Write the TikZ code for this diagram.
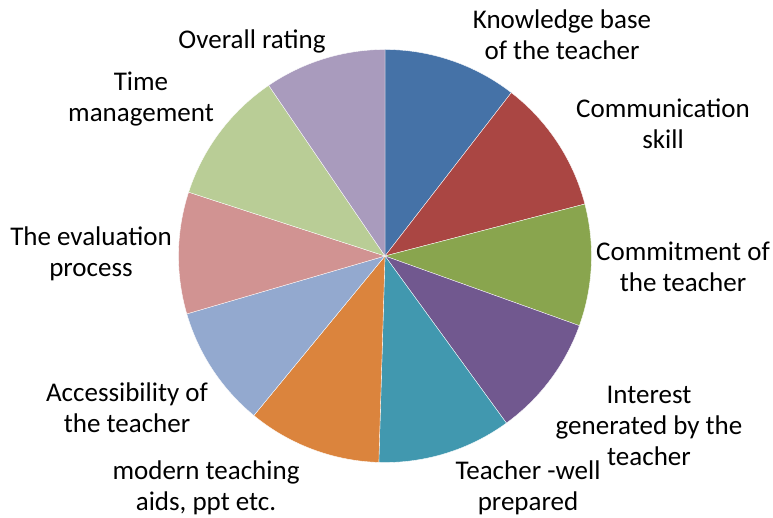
\documentclass[tikz,border=0pt]{standalone}
\usepackage{fontspec}
\setmainfont{Carlito}
\definecolor{cA}{HTML}{4572A7}
\definecolor{cB}{HTML}{AA4643}
\definecolor{cC}{HTML}{89A54E}
\definecolor{cD}{HTML}{71588F}
\definecolor{cE}{HTML}{4198AF}
\definecolor{cF}{HTML}{DB843D}
\definecolor{cG}{HTML}{93A9CF}
\definecolor{cH}{HTML}{D19392}
\definecolor{cI}{HTML}{B9CD96}
\definecolor{cJ}{HTML}{A99BBD}
\tikzset{
  lbl/.style={anchor=base, align=center, inner sep=0pt, font=\fontsize{27}{31}\selectfont, text=black},
  slicefill/.style={fill=#1, draw=white, line width=0.35pt, line join=round}
}
\newcommand{\pieslice}[3]{%
  \filldraw[slicefill=#3] (385,256) -- ++({#1-90}:206.5) arc[start angle={#1-90}, end angle={#2-90}, radius=206.5] -- cycle;}
\begin{document}
\begin{tikzpicture}[x=1pt,y=-1pt]
\useasboundingbox (0,0) rectangle (773,518);
\pieslice{0}{37.714}{cA}
\pieslice{37.714}{75.429}{cB}
\pieslice{75.429}{109.714}{cC}
\pieslice{109.714}{144}{cD}
\pieslice{144}{181.714}{cE}
\pieslice{181.714}{219.429}{cF}
\pieslice{219.429}{253.714}{cG}
\pieslice{253.714}{288}{cH}
\pieslice{288}{325.714}{cI}
\pieslice{325.714}{360}{cJ}
\node[lbl] (kb) at (562,60) {Knowledge base\\of the teacher};
\node[lbl] (cs) at (663,149) {Communication\\skill};
\node[lbl] (ct) at (683,291.5) {Commitment of\\the teacher};
\node[lbl] (ig) at (649,465) {Interest\\generated by the\\teacher};
\node[lbl] (tw) at (528,510) {Teacher -well\\prepared};
\node[lbl] (mt) at (206,510) {modern teaching\\aids, ppt etc.};
\node[lbl] (at) at (127,432) {Accessibility of\\the teacher};
\node[lbl] (ep) at (91,277) {The evaluation\\process};
\node[lbl] (tm) at (141,122) {Time\\management};
\node[lbl] (or) at (252,49) {Overall rating};
\end{tikzpicture}
\end{document}
